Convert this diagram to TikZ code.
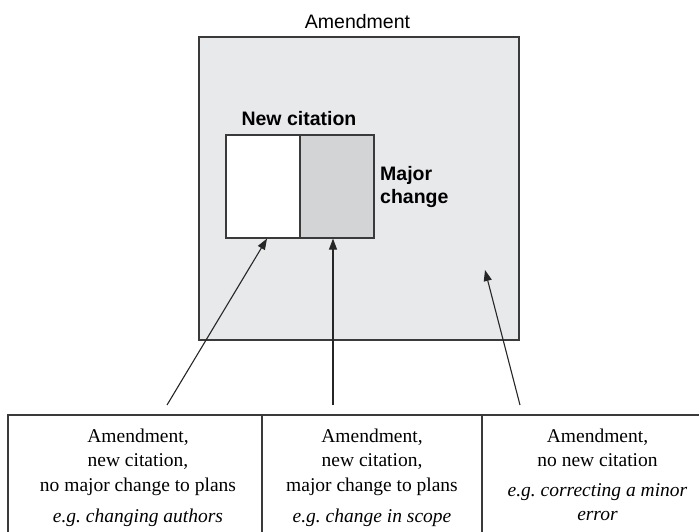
\documentclass[tikz,border=0pt]{standalone}
\usepackage{fontspec}
\setmainfont{Liberation Serif}
\setsansfont{Liberation Sans}
\usetikzlibrary{arrows.meta}
\definecolor{outerfill}{HTML}{E8E9EB}
\definecolor{innerfill}{HTML}{D3D4D6}
\definecolor{edge}{HTML}{3A3A3A}
\tikzset{
  boxline/.style={draw=edge, line width=1.6pt},
  ptr/.style={-{Triangle[length=11pt,width=8pt]}, line width=1.1pt, draw=black!85},
  celltext/.style={font=\fontsize{19.5}{24.3}\selectfont, align=center, anchor=north, inner sep=0pt},
  sanslabel/.style={font=\sffamily\fontsize{19.5}{22}\selectfont},
  sansbold/.style={font=\sffamily\bfseries\fontsize{19.5}{23}\selectfont},
}
\begin{document}
\begin{tikzpicture}[x=1pt,y=-1pt]
\useasboundingbox (0,0) rectangle (699,531);
\begin{scope}
\clip (0,0) rectangle (699,531);
% outer box
\node[boxline, fill=outerfill, minimum width=320pt, minimum height=303pt, inner sep=0pt, anchor=north west] (outer) at (198,36) {};
\node[sanslabel, anchor=base] (title) at (357.5,28) {Amendment};
% inner boxes
\node[boxline, fill=white, minimum width=74pt, minimum height=103pt, inner sep=0pt, anchor=north west] (left) at (225,134) {};
\node[boxline, fill=innerfill, minimum width=74pt, minimum height=103pt, inner sep=0pt, anchor=north west] (right) at (299,134) {};
\node[sansbold, anchor=base] (newcit) at (299,125) {New citation};
\node[sansbold, anchor=north west, align=left, inner sep=0pt] (major) at (380,166) {Major\\change};
\coordinate (tgt) at (485,270);
% bottom table
\draw[boxline] (8,560) |- (720,415);
\draw[boxline] (262,415) -- (262,560);
\draw[boxline] (482,415) -- (482,560);
\node[celltext] (c1) at (138,428.8) {Amendment,\\new citation,\\no major change to plans\\[6.7pt]\textit{e.g.\ changing authors}};
\node[celltext] (c2) at (372,428.8) {Amendment,\\new citation,\\major change to plans\\[6.7pt]\textit{e.g.\ change in scope}};
\node[celltext] (c3) at (597.5,428.8) {Amendment,\\no new citation\\[5.5pt]\textit{e.g.\ correcting a minor}\\\textit{error}};
\coordinate (s1) at (167,405);
\coordinate (s2) at (333,405);
\coordinate (s3) at (520,405);
\draw[ptr] (s1) -- (left.south -| 267,0);
\draw[ptr] (s2) -- (right.south -| 333,0);
\draw[ptr] (s3) -- (tgt);
\end{scope}
\end{tikzpicture}
\end{document}
